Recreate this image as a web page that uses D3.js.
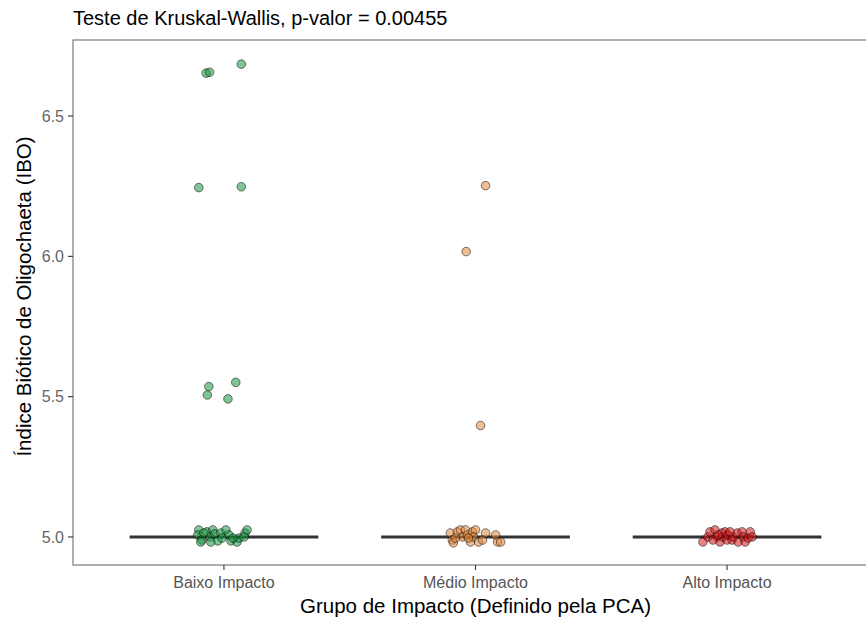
<!DOCTYPE html>
<html>
<meta charset="utf-8">
<script src="https://cdn.jsdelivr.net/npm/d3@7"></script>
<style>
body { margin: 0; background: #fff; }
svg text { font-family: "Liberation Sans", Arial, sans-serif; }
</style>
<body>
<svg id="chart" width="866" height="621"></svg>
<script>
// categories and summary
const groups = ["Baixo Impacto", "Médio Impacto", "Alto Impacto"];
const colors = ["#1a9641", "#e0863a", "#d7191c"];
const medians = [5.0, 5.0, 5.0];
const yTicks = [5.0, 5.5, 6.0, 6.5];

// IBO values per group, with the horizontal jitter (category units)
const baixoIBO = [6.653, 6.656, 6.685, 6.245, 6.248, 5.536, 5.506, 5.551, 5.492,
  5.025, 5.007, 4.989, 5.018, 5.000, 5.025, 5.011, 4.982, 4.986, 5.014, 5.025,
  5.007, 4.986, 4.982, 4.996, 5.014, 5.000, 4.996, 5.014, 4.982, 4.996, 5.025];
const baixoJit = [-0.071, -0.057, 0.069, -0.100, 0.069, -0.060, -0.066, 0.047, 0.016,
  -0.100, -0.104, -0.088, -0.068, -0.056, -0.044, -0.036, -0.052, -0.024, -0.012, 0.008,
  0.020, 0.028, 0.052, 0.060, 0.084, 0.080, -0.008, -0.080, -0.092, 0.036, 0.092];

const medioIBO = [6.252, 6.017, 5.397,
  5.014, 4.989, 4.979, 5.018, 5.025, 5.000, 5.025, 5.007, 4.982, 5.018,
  5.025, 5.000, 4.982, 4.989, 5.014, 5.007, 4.982, 4.982, 4.996, 4.996];
const medioJit = [0.040, -0.037, 0.020,
  -0.100, -0.092, -0.088, -0.072, -0.060, -0.052, -0.040, -0.032, -0.020, -0.012,
  0.000, -0.008, 0.012, 0.028, 0.040, 0.080, 0.088, 0.100, -0.080, -0.028];

const altoIBO = [4.982, 5.000, 5.018, 5.025, 5.000, 4.982, 5.014, 5.000, 5.018, 4.989,
  5.007, 4.989, 5.000, 5.014, 4.982, 5.018, 5.000, 4.982, 4.996, 5.018,
  5.000, 4.989, 5.007, 5.018];
const altoJit = [-0.096, -0.076, -0.068, -0.048, -0.040, -0.028, -0.020, -0.016, -0.008, 0.000,
  0.004, 0.020, 0.024, 0.040, 0.044, 0.060, 0.064, 0.072, 0.084, 0.092,
  0.100, -0.056, -0.036, 0.012];

const points = [];
[[baixoIBO, baixoJit], [medioIBO, medioJit], [altoIBO, altoJit]].forEach(function(g, gi){
  g[0].forEach(function(v, i){ points.push({g: gi, v: v, j: g[1][i]}); });
});

const svg = d3.select("#chart");
const pLeft = 73, pRight = 878, pTop = 40, pBottom = 565;

const x = d3.scaleLinear().domain([-0.6, 2.6]).range([pLeft, pRight]);
const y = d3.scaleLinear().domain([4.9, 6.771]).range([pBottom, pTop]);

// title
svg.append("text")
  .attr("x", pLeft).attr("y", 25)
  .attr("font-size", "20px").attr("fill", "#000")
  .text("Teste de Kruskal-Wallis, p-valor = 0.00455");

// panel border
svg.append("rect")
  .attr("x", pLeft).attr("y", pTop)
  .attr("width", pRight - pLeft).attr("height", pBottom - pTop)
  .attr("fill", "none").attr("stroke", "#7a7a7a").attr("stroke-width", 1.2);

// y axis ticks
const yg = svg.append("g");
yg.selectAll("line").data(yTicks).join("line")
  .attr("x1", pLeft - 5).attr("x2", pLeft)
  .attr("y1", d => y(d)).attr("y2", d => y(d))
  .attr("stroke", "#333").attr("stroke-width", 1.1);
yg.selectAll("text").data(yTicks).join("text")
  .attr("x", pLeft - 9).attr("y", d => y(d))
  .attr("dy", "0.36em").attr("text-anchor", "end")
  .attr("font-size", "16px").attr("fill", "#666")
  .text(d => d3.format(".1f")(d));

// x axis ticks
const xg = svg.append("g");
xg.selectAll("line").data(groups).join("line")
  .attr("x1", (d, i) => x(i)).attr("x2", (d, i) => x(i))
  .attr("y1", pBottom).attr("y2", pBottom + 5)
  .attr("stroke", "#333").attr("stroke-width", 1.1);
xg.selectAll("text").data(groups).join("text")
  .attr("x", (d, i) => x(i)).attr("y", pBottom + 23)
  .attr("text-anchor", "middle")
  .attr("font-size", "16px").attr("fill", "#555")
  .text(d => d);

// axis titles
svg.append("text")
  .attr("x", (pLeft + pRight) / 2).attr("y", 613)
  .attr("text-anchor", "middle").attr("font-size", "20.5px")
  .text("Grupo de Impacto (Definido pela PCA)");
svg.append("text")
  .attr("transform", "translate(31," + ((pTop + pBottom) / 2 - 6) + ") rotate(-90)")
  .attr("text-anchor", "middle").attr("font-size", "20.5px")
  .text("Índice Biótico de Oligochaeta (IBO)");

// median lines
svg.append("g").selectAll("line").data(medians).join("line")
  .attr("x1", (d, i) => x(i - 0.375)).attr("x2", (d, i) => x(i + 0.375))
  .attr("y1", d => y(d)).attr("y2", d => y(d))
  .attr("stroke", "#333").attr("stroke-width", 3);

// jittered points
svg.append("g").selectAll("circle").data(points).join("circle")
  .attr("cx", d => x(d.g + d.j))
  .attr("cy", d => y(d.v))
  .attr("r", 4.3)
  .attr("fill", d => colors[d.g])
  .attr("fill-opacity", 0.55)
  .attr("stroke", "#000")
  .attr("stroke-opacity", 0.5)
  .attr("stroke-width", 1);
</script>
</body>
</html>
